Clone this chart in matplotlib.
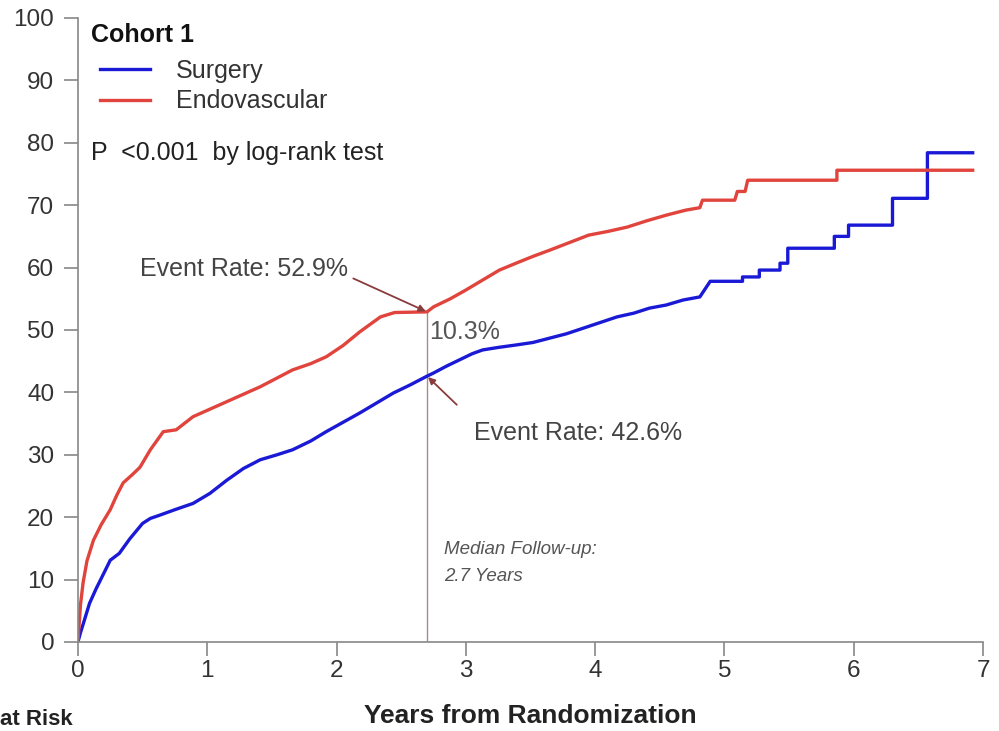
import matplotlib
matplotlib.use("Agg")
import matplotlib.pyplot as plt
from matplotlib.lines import Line2D

plt.rcParams['font.family'] = ['Liberation Sans', 'DejaVu Sans']

# Cumulative event rate (%); late steps given as corners
surg_t = [0, 0.02, 0.05, 0.09, 0.14, 0.20, 0.25, 0.32, 0.40, 0.50, 0.56, 0.63, 0.75,
          0.89, 1.02, 1.15, 1.28, 1.41, 1.54, 1.66, 1.80, 1.92, 2.05, 2.18, 2.31, 2.44,
          2.57, 2.70, 2.75, 2.85, 2.95, 3.05, 3.13, 3.25, 3.39, 3.52, 3.65, 3.78, 3.91,
          4.04, 4.17, 4.30, 4.42, 4.55, 4.68, 4.81, 4.89, 5.14, 5.14, 5.27, 5.27, 5.43,
          5.43, 5.49, 5.49, 5.85, 5.85, 5.96, 5.96, 6.30, 6.30, 6.57, 6.57, 6.92]
surg_v = [0, 1.5, 3.5, 6.2, 8.5, 11, 13.1, 14.2, 16.5, 19, 19.8, 20.3, 21.2,
          22.2, 23.8, 25.9, 27.8, 29.2, 30.0, 30.8, 32.2, 33.7, 35.2, 36.7, 38.3, 39.9,
          41.2, 42.6, 43.1, 44.2, 45.2, 46.2, 46.8, 47.2, 47.6, 48.0, 48.7, 49.4, 50.3,
          51.2, 52.1, 52.7, 53.5, 54.0, 54.8, 55.3, 57.8, 57.8, 58.5, 58.5, 59.6, 59.6,
          60.7, 60.7, 63.1, 63.1, 65.0, 65.0, 66.8, 66.8, 71.1, 71.1, 78.4, 78.4]

endo_t = [0, 0.01, 0.02, 0.04, 0.07, 0.12, 0.18, 0.25, 0.30, 0.35, 0.42, 0.48, 0.56,
          0.66, 0.76, 0.89, 1.02, 1.15, 1.28, 1.41, 1.54, 1.66, 1.80, 1.92, 2.05, 2.18,
          2.34, 2.45, 2.70, 2.75, 2.88, 3.00, 3.13, 3.26, 3.40, 3.52, 3.65, 3.80, 3.95,
          4.10, 4.25, 4.40, 4.55, 4.70, 4.81, 4.83, 5.08, 5.10, 5.16, 5.18, 5.87, 5.87,
          6.92]
endo_v = [0, 3, 6, 9.5, 13, 16.3, 18.8, 21.2, 23.5, 25.5, 26.8, 28, 30.8,
          33.7, 34, 36.1, 37.3, 38.5, 39.7, 40.9, 42.3, 43.6, 44.6, 45.7, 47.5, 49.7,
          52.1, 52.8, 52.9, 53.7, 55.0, 56.4, 58.0, 59.6, 60.8, 61.8, 62.8, 64.0, 65.2,
          65.8, 66.5, 67.5, 68.4, 69.2, 69.6, 70.8, 70.8, 72.2, 72.2, 74.0, 74.0, 75.6,
          75.6]

median_fu = 2.7
surg_rate = 42.6
endo_rate = 52.9

blue = '#1a1ad6'
red = '#e0443c'
grey = '#888888'
arrow_col = '#8a3c3c'
fs = 18

fig = plt.figure(figsize=(9.99, 7.31), dpi=100)
ax = fig.add_axes([0.078, 0.1218, 0.906, 0.8536])

ax.plot(surg_t, surg_v, color=blue, lw=2.4, label='Surgery')
ax.plot(endo_t, endo_v, color=red, lw=2.4, label='Endovascular')

ax.plot([median_fu, median_fu], [0, endo_rate], color='#a98a8a', lw=1.0, zorder=1)

ax.set_xlim(0, 7)
ax.set_ylim(0, 100)
ax.set_xticks(range(0, 8))
ax.set_yticks(range(0, 101, 10))
for s in ['top', 'right']:
    ax.spines[s].set_visible(False)
for s in ['left', 'bottom']:
    ax.spines[s].set_color(grey)
    ax.spines[s].set_linewidth(1.2)
ax.tick_params(direction='out', length=10, width=1.2, color=grey,
               labelsize=17.5, labelcolor='#333333')
ax.tick_params(axis='y', pad=7)
ax.tick_params(axis='x', pad=3)
ax.set_xlabel('Years from Randomization', fontsize=19, fontweight='bold',
              color='#222222', labelpad=16)

# annotations
ax.annotate('Event Rate: {:.1f}%'.format(endo_rate), xy=(median_fu, endo_rate),
            xytext=(0.48, 59.8), fontsize=fs, color='#444444', va='center',
            arrowprops=dict(arrowstyle='-|>', color=arrow_col, lw=1.3,
                            shrinkA=2, shrinkB=1, mutation_scale=10,
                            relpos=(1.0, 0.2)))
ax.annotate('Event Rate: {:.1f}%'.format(surg_rate), xy=(median_fu, surg_rate),
            xytext=(3.06, 33.5), fontsize=fs, color='#444444', va='center',
            arrowprops=dict(arrowstyle='-|>', color=arrow_col, lw=1.3,
                            shrinkA=14, shrinkB=1, mutation_scale=10,
                            relpos=(0.0, 1.0)))
ax.text(median_fu + 0.02, 49.6, '{:.1f}%'.format(endo_rate - surg_rate),
        fontsize=fs, color='#555555', va='center')
ax.text(2.83, 12.6, 'Median Follow-up:\n2.7 Years', fontsize=13.5, style='italic',
        color='#555555', va='center', linespacing=1.75)

ax.text(0.1, 78.4, 'P  <0.001  by log-rank test', fontsize=fs, color='#222222',
        va='center')

ax.text(0.1, 97.3, 'Cohort 1', fontsize=fs, fontweight='bold', color='#111111',
        va='center')
handles = [Line2D([], [], color=blue, lw=2.4), Line2D([], [], color=red, lw=2.4)]
leg = ax.legend(handles, ['Surgery', 'Endovascular'],
                loc='upper left', bbox_to_anchor=(0.013, 0.951), frameon=False,
                fontsize=fs, handlelength=2.0, handletextpad=1.05,
                labelspacing=0.27, borderaxespad=0.0)
for t in leg.get_texts():
    t.set_color('#333333')

fig.text(0.0, 0.002, 'at Risk', ha='left', va='bottom', fontsize=16,
         fontweight='bold', color='#222222')

fig.savefig('out.png', dpi=100)
